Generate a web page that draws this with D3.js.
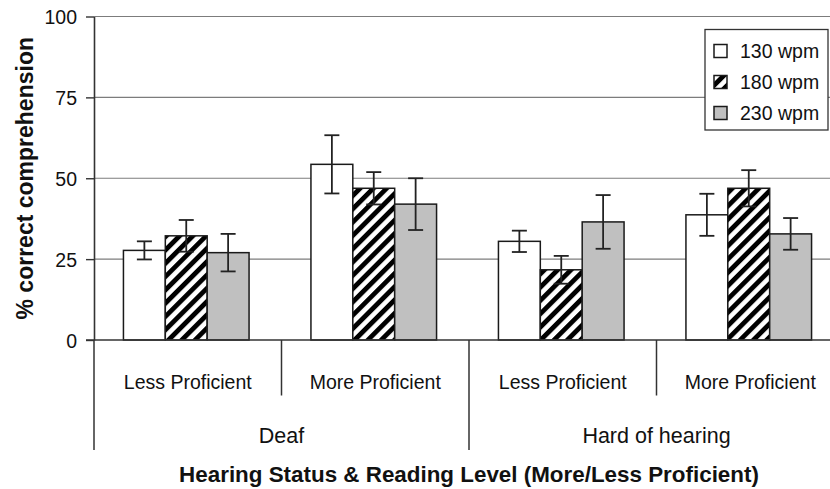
<!DOCTYPE html>
<html>
<head>
<meta charset="utf-8">
<script src="https://cdn.jsdelivr.net/npm/d3@7"></script>
<style>
  html, body { margin: 0; padding: 0; background: #fff; }
  svg { display: block; font-family: "Liberation Sans", Arial, Helvetica, sans-serif; }
</style>
</head>
<body>
<svg id="chart" width="830" height="489"></svg>
<script>
// Hearing status groups and reading-level subgroups (x categories, in order)
const hearingGroups = ["Deaf", "Hard of hearing"];
const readingLevels = ["Less Proficient", "More Proficient"];
const series = ["130 wpm", "180 wpm", "230 wpm"];

// Mean % correct comprehension per cell: Deaf-Less, Deaf-More, HoH-Less, HoH-More
const mean130 = [27.7, 54.3, 30.5, 38.7];
const mean180 = [32.2, 46.9, 21.7, 46.9];
const mean230 = [27.0, 42.0, 36.5, 32.8];

// Error bar half-widths for the same cells
const err130 = [2.8, 9.0, 3.3, 6.5];
const err180 = [4.9, 5.0, 4.3, 5.6];
const err230 = [5.8, 8.0, 8.3, 4.9];

const yTicks = [0, 25, 50, 75, 100];
const yTitle = "% correct comprehension";
const xTitle = "Hearing Status & Reading Level (More/Less Proficient)";

// Build rows for drawing
const cells = [];
hearingGroups.forEach(g => readingLevels.forEach(l => cells.push({ group: g, level: l, key: g + "|" + l })));
const means = [mean130, mean180, mean230];
const errs = [err130, err180, err230];
const rows = [];
cells.forEach((c, i) => series.forEach((s, j) => rows.push({ key: c.key, series: s, value: means[j][i], err: errs[j][i] })));

const svg = d3.select("#chart");
const plotLeft = 94, plotRight = 844, plotTop = 16.5, plotBottom = 340;
const axisColor = "#333";
const gridColor = "#7c7c7c";

const y = d3.scaleLinear().domain([0, 100]).range([plotBottom, plotTop]);
const x0 = d3.scaleBand().domain(cells.map(c => c.key)).range([plotLeft, plotRight]).padding(0);
const gw = x0.bandwidth();
const x1 = d3.scaleBand().domain(series).range([gw * 0.157, gw * 0.827]).padding(0);

// Diagonal hatch for the middle series
const defs = svg.append("defs");
const pat = defs.append("pattern")
  .attr("id", "hatch")
  .attr("patternUnits", "userSpaceOnUse")
  .attr("width", 9.4).attr("height", 9.4)
  .attr("patternTransform", "rotate(45)");
pat.append("rect").attr("width", 9.4).attr("height", 9.4).attr("fill", "#fff");
pat.append("rect").attr("x", 0).attr("width", 4.8).attr("height", 9.4).attr("fill", "#000");

const fills = { "130 wpm": "#ffffff", "180 wpm": "url(#hatch)", "230 wpm": "#c0c0c0" };

// Gridlines
svg.append("g").selectAll("line")
  .data(yTicks.filter(t => t > 0))
  .join("line")
  .attr("x1", plotLeft).attr("x2", 830)
  .attr("y1", d => y(d)).attr("y2", d => y(d))
  .attr("stroke", gridColor).attr("stroke-width", 1.2);

// Y axis
const yAxis = svg.append("g")
  .attr("transform", `translate(${plotLeft},0)`)
  .call(d3.axisLeft(y).tickValues(yTicks).tickSize(8).tickSizeOuter(0).tickPadding(9));
yAxis.select(".domain").attr("stroke", axisColor).attr("stroke-width", 1.6);
yAxis.selectAll(".tick line").attr("stroke", axisColor).attr("stroke-width", 1.4);
yAxis.selectAll(".tick text")
  .attr("font-size", 19.5).attr("fill", "#111")
  .attr("font-family", "'Liberation Sans', Arial, sans-serif")
  .attr("dy", "0.36em");

// Bars
svg.append("g").selectAll("rect")
  .data(rows)
  .join("rect")
  .attr("x", d => x0(d.key) + x1(d.series))
  .attr("y", d => y(d.value))
  .attr("width", x1.bandwidth())
  .attr("height", d => y(0) - y(d.value))
  .attr("fill", d => fills[d.series])
  .attr("stroke", "#1a1a1a").attr("stroke-width", 1.5);

// Error bars
const eb = svg.append("g").attr("stroke", "#222").attr("stroke-width", 1.8).attr("fill", "none");
const cx = d => x0(d.key) + x1(d.series) + x1.bandwidth() / 2;
const capW = 7.5;
eb.selectAll("line.v").data(rows).join("line").attr("class", "v")
  .attr("x1", cx).attr("x2", cx)
  .attr("y1", d => y(d.value + d.err)).attr("y2", d => y(d.value - d.err));
eb.selectAll("line.t").data(rows).join("line").attr("class", "t")
  .attr("x1", d => cx(d) - capW).attr("x2", d => cx(d) + capW)
  .attr("y1", d => y(d.value + d.err)).attr("y2", d => y(d.value + d.err));
eb.selectAll("line.b").data(rows).join("line").attr("class", "b")
  .attr("x1", d => cx(d) - capW).attr("x2", d => cx(d) + capW)
  .attr("y1", d => y(d.value - d.err)).attr("y2", d => y(d.value - d.err));

// Baseline (x axis)
svg.append("line")
  .attr("x1", plotLeft - 8).attr("x2", 830)
  .attr("y1", y(0)).attr("y2", y(0))
  .attr("stroke", axisColor).attr("stroke-width", 1.6);

// Hierarchical category axis: separators and labels
const sepShort = 395.5, sepLong = 450;
const boundaries = d3.range(cells.length + 1).map(i => plotLeft + i * gw);
svg.append("g").selectAll("line")
  .data(boundaries)
  .join("line")
  .attr("x1", d => d).attr("x2", d => d)
  .attr("y1", y(0))
  .attr("y2", (d, i) => (i % readingLevels.length === 0 ? sepLong : sepShort))
  .attr("stroke", axisColor).attr("stroke-width", 1.5);

svg.append("g").selectAll("text")
  .data(cells)
  .join("text")
  .attr("x", d => x0(d.key) + gw / 2)
  .attr("y", 389.3)
  .attr("text-anchor", "middle")
  .attr("font-size", 19.5).attr("fill", "#111")
  .text(d => d.level);

svg.append("g").selectAll("text")
  .data(hearingGroups)
  .join("text")
  .attr("x", (d, i) => plotLeft + (i + 0.5) * gw * readingLevels.length)
  .attr("y", 443)
  .attr("text-anchor", "middle")
  .attr("font-size", 21.5).attr("fill", "#111")
  .text(d => d);

// Axis titles
svg.append("text")
  .attr("x", (plotLeft + plotRight) / 2).attr("y", 482)
  .attr("text-anchor", "middle")
  .attr("font-size", 22.4).attr("font-weight", "bold").attr("fill", "#111")
  .text(xTitle);

svg.append("text")
  .attr("transform", `translate(33,${(plotTop + plotBottom) / 2}) rotate(-90)`)
  .attr("text-anchor", "middle")
  .attr("font-size", 23).attr("font-weight", "bold").attr("fill", "#111")
  .text(yTitle);

// Legend
const lg = svg.append("g").attr("transform", "translate(705,29.5)");
lg.append("rect").attr("width", 123).attr("height", 100.5)
  .attr("fill", "#fff").attr("stroke", "#333").attr("stroke-width", 1.3);
const items = lg.selectAll("g.item").data(series).join("g")
  .attr("class", "item")
  .attr("transform", (d, i) => `translate(9,${21.5 + i * 31})`);
items.append("rect")
  .attr("x", 0).attr("y", -6.5).attr("width", 13).attr("height", 13)
  .attr("fill", d => fills[d]).attr("stroke", "#1a1a1a").attr("stroke-width", 1.5);
items.append("text")
  .attr("x", 26).attr("y", 0).attr("dy", "0.36em")
  .attr("font-size", 19.5).attr("fill", "#111")
  .text(d => d);
</script>
</body>
</html>
